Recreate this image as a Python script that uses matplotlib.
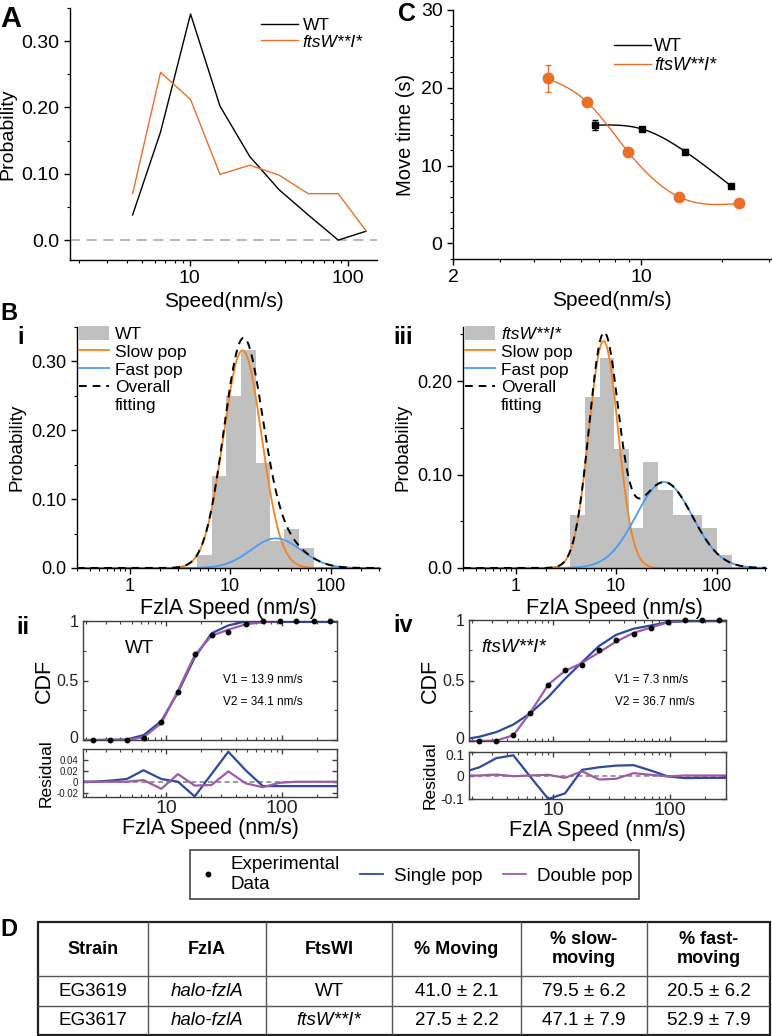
import matplotlib
matplotlib.use("Agg")
import matplotlib.pyplot as plt
import matplotlib.transforms as mtransforms
import numpy as np
from matplotlib.lines import Line2D
from matplotlib.ticker import LogLocator, NullFormatter, AutoMinorLocator, FixedLocator

plt.rcParams.update({
    "font.family": ["Liberation Sans", "DejaVu Sans"],
    "axes.unicode_minus": False,
    "axes.linewidth": 1.0,
    "xtick.major.width": 1.0, "ytick.major.width": 1.0,
    "xtick.minor.width": 0.8, "ytick.minor.width": 0.8,
})

ORANGE = "#e8702a"; SLOW = "#f5821f"; FAST = "#4d9bf0"
SINGLE = "#2c4a9e"; DOUBLE = "#a05aab"; HIST = "#c0c0c0"
FTSW = "ftsW**I*"

# ---------------- A: speed distributions
a_speed = [4.35, 6.53, 10.1, 15.5, 23.9, 36.6, 55.9, 86.5, 130]
a_wt = [0.038, 0.163, 0.341, 0.202, 0.126, 0.076, 0.038, 0.0, 0.0135]
a_ftsw = [0.070, 0.253, 0.212, 0.099, 0.113, 0.098, 0.070, 0.070, 0.0135]

# ---------------- C: move time vs speed
c_wt_speed = [6.77, 10.1, 14.6, 21.6]
c_wt_time = [15.2, 14.7, 11.8, 7.38]
c_wt_err = [0.6, 0.3, 0.3, 0.3]
c_ftsw_speed = [4.49, 6.29, 8.93, 13.8, 23.2]
c_ftsw_time = [21.2, 18.2, 11.8, 6.0, 5.15]
c_ftsw_err = [1.75, 0.4, 0.3, 0.3, 0.3]

# ---------------- B i / iii: histograms + two-population fits (amp, centre, sigma in decades)
wt_edges = [4.67, 6.58, 9.12, 12.8, 18.1, 24.9, 34.7, 48.8, 68.8]
wt_hist = [0.019, 0.134, 0.250, 0.317, 0.153, 0.039, 0.057, 0.029]
wt_slow = (0.316, 13.3, 0.19)
wt_fast = (0.043, 28.6, 0.25)
ftsw_edges = [3.49, 4.9, 6.87, 9.62, 13.3, 18.5, 26.1, 36.9, 51.3, 71.9, 102, 143]
ftsw_hist = [0.057, 0.183, 0.225, 0.127, 0.043, 0.113, 0.084, 0.057, 0.057, 0.043, 0.014]
ftsw_slow = (0.243, 7.5, 0.145)
ftsw_fast = (0.092, 30.0, 0.28)

# ---------------- B ii / iv: CDFs and residuals (model - data)
cdf_x = [1.66, 2.33, 3.26, 4.55, 6.35, 9.05, 12.6, 17.6, 24.6, 34.4, 48.6, 68.4, 95.5, 133, 188, 263, 368]
wt_cdf = [0, 0, 0, 0, 0.02, 0.154, 0.40, 0.72, 0.882, 0.908, 0.975, 1, 1, 1, 1, 1, 1]
wt_res_single = [0, 0, 0.002, 0.005, 0.021, 0.005, 0.0, -0.027, 0.014, 0.055, 0.021, -0.008,
                 -0.008, -0.008, -0.008, -0.008, -0.008]
wt_res_double = [0, 0, 0, 0, 0.003, -0.013, 0.014, -0.007, -0.006, 0.019, -0.003, -0.010,
                 -0.002, 0, 0, 0, 0]
ftsw_cdf = [0, 0, 0, 0.05, 0.234, 0.463, 0.59, 0.627, 0.75, 0.835, 0.884, 0.934, 0.986, 1, 1, 1, 1]
ftsw_res_single = [0.012, 0.035, 0.074, 0.086, -0.005, -0.1, -0.076, 0.024, 0.035, 0.042, 0.044,
                   0.021, -0.004, -0.011, -0.01, -0.01, -0.01]
ftsw_res_double = [0, 0, 0.004, -0.003, 0, 0.003, -0.01, 0.018, -0.017, -0.014, 0.01, 0.003,
                   -0.004, 0, 0, 0, 0]

# ---------------- D: table
tab_header = ["Strain", "FzlA", "FtsWI", "% Moving", "% slow-\nmoving", "% fast-\nmoving"]
tab_strain = ["EG3619", "EG3617"]
tab_fzla = ["halo-fzlA", "halo-fzlA"]
tab_ftswi = ["WT", FTSW]
tab_moving = ["41.0 ± 2.1", "27.5 ± 2.2"]
tab_slow = ["79.5 ± 6.2", "47.1 ± 7.9"]
tab_fast = ["20.5 ± 6.2", "52.9 ± 7.9"]

W, H = 772, 1036
fig = plt.figure(figsize=(W / 100, H / 100), dpi=100)


def rect(x0, y0, x1, y1):
    return [x0 / W, 1 - y1 / H, (x1 - x0) / W, (y1 - y0) / H]


def ftext(x, y, s, **kw):
    fig.text(x / W, 1 - y / H, s, **kw)


def peak(x, p):
    amp, c, s = p
    return amp * np.exp(-0.5 * ((np.log10(x) - np.log10(c)) / s) ** 2)


def nat_spline(x, y, xs):
    x = np.asarray(x, float); y = np.asarray(y, float); n = len(x)
    h = np.diff(x)
    A = np.zeros((n, n)); r = np.zeros(n)
    A[0, 0] = A[-1, -1] = 1
    for i in range(1, n - 1):
        A[i, i - 1] = h[i - 1]; A[i, i] = 2 * (h[i - 1] + h[i]); A[i, i + 1] = h[i]
        r[i] = 3 * ((y[i + 1] - y[i]) / h[i] - (y[i] - y[i - 1]) / h[i - 1])
    c = np.linalg.solve(A, r)
    b = (y[1:] - y[:-1]) / h - h * (2 * c[:-1] + c[1:]) / 3
    d = (c[1:] - c[:-1]) / (3 * h)
    idx = np.clip(np.searchsorted(x, xs) - 1, 0, n - 2)
    dx = xs - x[idx]
    return y[idx] + b[idx] * dx + c[idx] * dx ** 2 + d[idx] * dx ** 3


def open_axes(ax, fs):
    ax.spines["top"].set_visible(False); ax.spines["right"].set_visible(False)
    ax.tick_params(which="major", length=4, labelsize=fs, direction="out")
    ax.tick_params(which="minor", length=2.2, direction="out")
    ax.xaxis.set_minor_locator(LogLocator(base=10, subs=np.arange(2, 10)))
    ax.xaxis.set_minor_formatter(NullFormatter())


def nudge(label, dy_px):
    label.set_transform(label.get_transform()
                        + mtransforms.ScaledTranslation(0, dy_px / 100, fig.dpi_scale_trans))


# ================= A
ax = fig.add_axes(rect(70, 8, 377, 260))
ax.set_xscale("log")
ax.axhline(0, color="#aaaaaa", lw=1.2, ls=(0, (6, 4)))
ax.plot(a_speed, a_wt, color="black", lw=1.0, label="WT")
ax.plot(a_speed, a_ftsw, color=ORANGE, lw=1.0, label=FTSW)
ax.set_xlim(1.75, 152); ax.set_ylim(-0.03, 0.35)
open_axes(ax, 14)
ax.set_xticks([10, 100], labels=["10", "100"])
ax.set_yticks([0, 0.1, 0.2, 0.3], labels=["0.0", "0.10", "0.20", "0.30"])
ax.yaxis.set_minor_locator(AutoMinorLocator(2))
ax.set_ylabel("Probability", fontsize=14, labelpad=4)
ax.set_xlabel("Speed(nm/s)", fontsize=15, labelpad=3)
leg = ax.legend(loc="upper left", bbox_to_anchor=(0.6, 0.99), frameon=False, fontsize=12.5,
                handlelength=2.1, labelspacing=0.1, handletextpad=0.3, borderaxespad=0)
leg.get_texts()[1].set_style("italic")

# ================= C
ax = fig.add_axes(rect(453, 10, 771, 259))
ax.set_xscale("log")
lx = np.linspace(np.log10(c_wt_speed[0]), np.log10(c_wt_speed[-1]), 200)
ax.plot(10 ** lx, nat_spline(np.log10(c_wt_speed), c_wt_time, lx), color="black", lw=1.0, label="WT")
lx = np.linspace(np.log10(c_ftsw_speed[0]), np.log10(c_ftsw_speed[-1]), 200)
ax.plot(10 ** lx, nat_spline(np.log10(c_ftsw_speed), c_ftsw_time, lx), color=ORANGE, lw=1.0, label=FTSW)
ax.errorbar(c_wt_speed, c_wt_time, yerr=c_wt_err, fmt="s", color="black", ms=4.5, capsize=2.5,
            elinewidth=1, zorder=3)
ax.errorbar(c_ftsw_speed, c_ftsw_time, yerr=c_ftsw_err, fmt="o", color=ORANGE, ms=7.5, capsize=2.5,
            elinewidth=1, zorder=3)
ax.set_xlim(2, 30.4); ax.set_ylim(-2, 30)
open_axes(ax, 14)
ax.set_xticks([2, 10], labels=["2", "10"])
ax.set_yticks([0, 10, 20, 30])
ax.yaxis.set_minor_locator(AutoMinorLocator(5))
ax.set_ylabel("Move time (s)", fontsize=14.5, labelpad=4)
ax.set_xlabel("Speed(nm/s)", fontsize=15, labelpad=3)
leg = ax.legend(loc="upper left", bbox_to_anchor=(0.485, 0.915), frameon=False, fontsize=13,
                handlelength=2.0, labelspacing=0.1, handletextpad=0.2, borderaxespad=0)
leg.get_texts()[1].set_style("italic")


# ================= B i / iii
def hist_panel(box, edges, hist, slow, fast, name, ylim, yt, ytl):
    ax = fig.add_axes(rect(*box))
    ax.set_xscale("log")
    ax.stairs(hist, edges, fill=True, color=HIST, lw=0, label=name)
    xs = np.logspace(np.log10(0.3), np.log10(320), 600)
    ax.plot(xs, peak(xs, slow), color=SLOW, lw=1.3, label="Slow pop")
    ax.plot(xs, peak(xs, fast), color=FAST, lw=1.3, label="Fast pop")
    ax.plot(xs, peak(xs, slow) + peak(xs, fast), color="black", lw=1.4, ls=(0, (4, 3)),
            label="Overall")
    ax.plot([], [], color="none", label="fitting")
    ax.set_xlim(0.3, 310); ax.set_ylim(*ylim)
    open_axes(ax, 13)
    ax.set_xticks([1, 10, 100], labels=["1", "10", "100"])
    ax.set_yticks(yt, labels=ytl)
    ax.yaxis.set_minor_locator(AutoMinorLocator(2))
    ax.set_ylabel("Probability", fontsize=13.5, labelpad=4)
    ax.set_xlabel("FzlA Speed (nm/s)", fontsize=15.5, labelpad=2)
    leg = ax.legend(loc="upper left", bbox_to_anchor=(0.0, 1.01), frameon=False, fontsize=12.5,
                    handlelength=1.75, handleheight=0.8, labelspacing=0.12, handletextpad=0.35,
                    borderaxespad=0, borderpad=0.1)
    return ax, leg


hist_panel((77, 327, 380, 568), wt_edges, wt_hist, wt_slow, wt_fast, "WT",
           (0, 0.35), [0, 0.1, 0.2, 0.3], ["0.0", "0.10", "0.20", "0.30"])
_, leg = hist_panel((463, 327, 766, 568), ftsw_edges, ftsw_hist, ftsw_slow, ftsw_fast, FTSW,
                    (0, 0.258), [0, 0.1, 0.2], ["0.0", "0.10", "0.20"])
leg.get_texts()[0].set_style("italic")


# ================= B ii / iv
def cdf_panel(box_c, box_r, cdf, res_s, res_d, name, italic, v1, v2, res_lim, res_ticks, res_fs,
              shift_top):
    x = np.array(cdf_x); d = np.array(cdf)
    axc = fig.add_axes(rect(*box_c)); axr = fig.add_axes(rect(*box_r))
    for a in (axc, axr):
        a.set_xscale("log"); a.set_xlim(1.9, 300)
        for s in a.spines.values():
            s.set_color("#404040")
        a.tick_params(which="both", direction="in", top=True, right=True, colors="#404040",
                      labelcolor="#222222")
        a.tick_params(which="major", length=3.5)
        a.tick_params(which="minor", length=2)
        a.xaxis.set_minor_locator(LogLocator(base=10, subs=np.arange(2, 10)))
        a.xaxis.set_minor_formatter(NullFormatter())
        a.set_xticks([10, 100], labels=["10", "100"])
    axc.plot(x, d + np.array(res_s), color=SINGLE, lw=1.6)
    axc.plot(x, d + np.array(res_d), color=DOUBLE, lw=1.6)
    axc.plot(x[1:-1], d[1:-1], "o", color="black", ms=3.2, clip_on=False, zorder=4)
    axc.set_ylim(0, 1)
    axc.set_yticks([0, 0.5, 1], labels=["0", "0.5", "1"])
    axc.yaxis.set_minor_locator(FixedLocator([0.25, 0.75]))
    axc.tick_params(axis="y", labelsize=11.5)
    axc.tick_params(axis="x", labelbottom=False)
    axc.set_ylabel("CDF", fontsize=15.5, labelpad=1)
    axc.text(v1[0], v1[1], name, transform=axc.transAxes, fontsize=13.5, va="center",
             style="italic" if italic else "normal")
    axc.text(v2[0], 0.504, v1[2], transform=axc.transAxes, fontsize=8.5, va="center")
    axc.text(v2[0], 0.322, v2[1], transform=axc.transAxes, fontsize=8.5, va="center")

    axr.axhline(0, color="#888888", lw=1.2, ls=(0, (3, 2)))
    axr.plot(x, res_s, color=SINGLE, lw=1.6)
    axr.plot(x, res_d, color=DOUBLE, lw=1.6)
    axr.set_ylim(*res_lim)
    axr.set_yticks(res_ticks, labels=[f"{t:g}" for t in res_ticks])
    axr.tick_params(axis="y", labelsize=res_fs)
    axr.tick_params(axis="x", labelsize=14, pad=2)
    axr.set_ylabel("Residual", fontsize=12.5, labelpad=2)
    axr.set_xlabel("FzlA Speed (nm/s)", fontsize=15.5, labelpad=1)
    nudge(axc.get_yticklabels()[0], 3)
    if shift_top:
        nudge(axr.get_yticklabels()[-1], -3)
    return axc, axr


cdf_panel((83, 621, 337, 740), (83, 749, 337, 797), wt_cdf, wt_res_single, wt_res_double,
          "WT", False, (0.165, 0.773, "V1 = 13.9 nm/s"), (0.551, "V2 = 34.1 nm/s"),
          (-0.028, 0.06), [-0.02, 0, 0.02, 0.04], 7, False)
cdf_panel((469, 620, 726, 741), (469, 752, 726, 799), ftsw_cdf, ftsw_res_single,
          ftsw_res_double, FTSW, True, (0.05, 0.77, "V1 = 7.3 nm/s"),
          (0.569, "V2 = 36.7 nm/s"), (-0.1, 0.1), [-0.1, 0, 0.1], 10, True)

# shared legend for ii / iv
handles = [Line2D([], [], marker="o", ls="none", color="black", ms=3.2),
           Line2D([], [], color=SINGLE, lw=1.3),
           Line2D([], [], color=DOUBLE, lw=1.3)]
leg = fig.legend(handles, ["Experimental\nData", "Single pop", "Double pop"], loc="center",
                 bbox_to_anchor=(414.5 / W, 1 - 874.5 / H), ncol=3, frameon=True, fancybox=False,
                 edgecolor="#444444", fontsize=13.5, handlelength=1.2, columnspacing=1.1,
                 borderpad=0.35, handletextpad=0.6, framealpha=1)
leg.get_frame().set_linewidth(1.2)

# ================= D: table
tab = fig.add_axes(rect(38, 922, 770, 1035))
tab.set_xlim(38, 770); tab.set_ylim(1035, 922); tab.axis("off")
col_edges = [38, 148, 266, 392, 521, 647, 770]
row_edges = [922, 976, 1006, 1035]
for xe in col_edges[1:-1]:
    tab.plot([xe, xe], [row_edges[0], row_edges[-1]], color="#555555", lw=1)
for ye in row_edges[1:-1]:
    tab.plot([col_edges[0], col_edges[-1]], [ye, ye], color="#555555", lw=1)
tab.add_patch(plt.Rectangle((col_edges[0], row_edges[0]), col_edges[-1] - col_edges[0],
                            row_edges[-1] - row_edges[0], fill=False, ec="#222222", lw=1.6,
                            clip_on=False))
cx = [(col_edges[i] + col_edges[i + 1]) / 2 for i in range(6)]
for i, h in enumerate(tab_header):
    tab.text(cx[i], (row_edges[0] + row_edges[1]) / 2, h, ha="center", va="center",
             fontsize=13, fontweight="bold", linespacing=1.15)
columns = [tab_strain, tab_fzla, tab_ftswi, tab_moving, tab_slow, tab_fast]
for r in range(2):
    cy = (row_edges[r + 1] + row_edges[r + 2]) / 2
    for i, col in enumerate(columns):
        ital = (i == 1) or (i == 2 and col[r] == FTSW)
        tab.text(cx[i], cy, col[r], ha="center", va="center", fontsize=13.5,
                 style="italic" if ital else "normal")

# ================= panel letters
ftext(0, 19, "A", fontsize=21, fontweight="bold", va="center")
ftext(398, 14, "C", fontsize=18, fontweight="bold", va="center")
ftext(0, 313, "B", fontsize=17, fontweight="bold", va="center")
ftext(0, 929, "D", fontsize=17, fontweight="bold", va="center")
ftext(17, 337, "i", fontsize=17, fontweight="bold", va="center")
ftext(393, 337, "iii", fontsize=17, fontweight="bold", va="center")
ftext(16, 627, "ii", fontsize=17, fontweight="bold", va="center")
ftext(393, 625, "iv", fontsize=17, fontweight="bold", va="center")

fig.savefig("out.png", dpi=100)
